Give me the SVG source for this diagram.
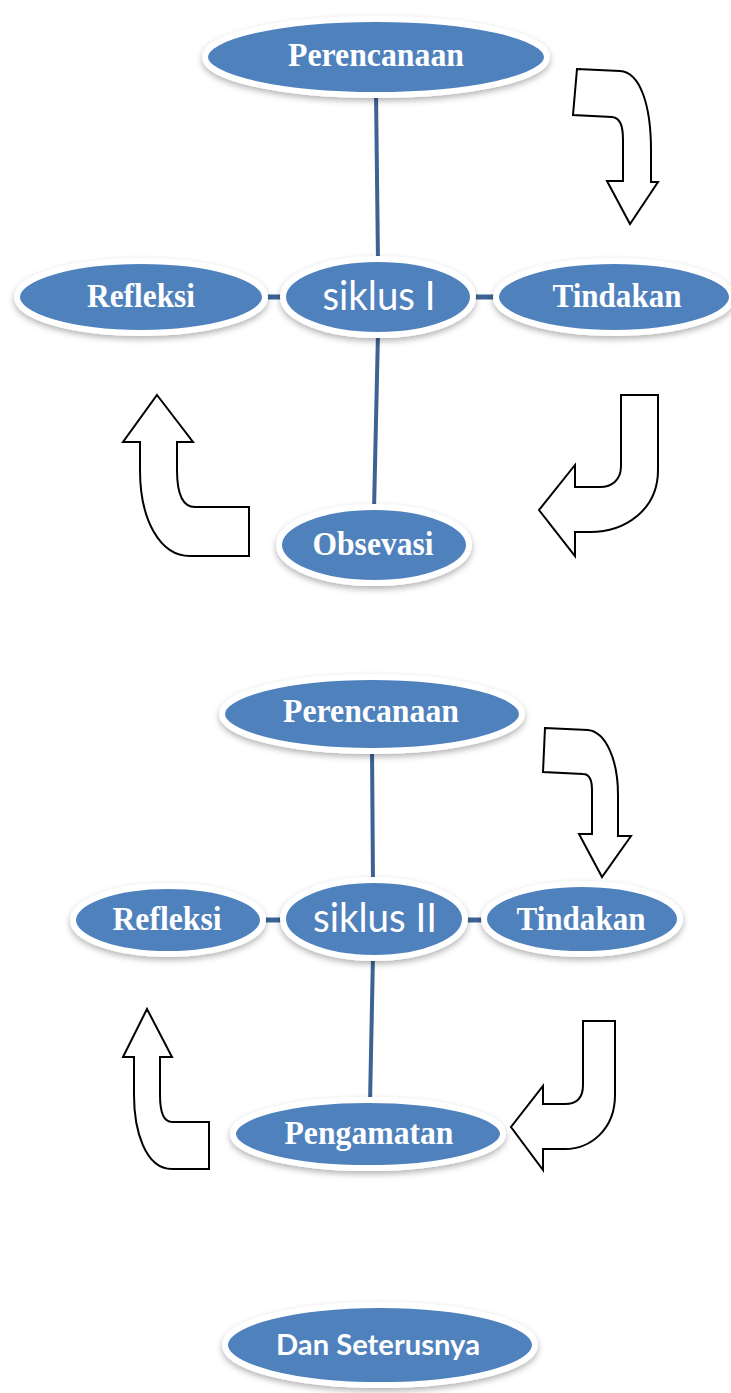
<svg xmlns="http://www.w3.org/2000/svg" width="731" height="1393" viewBox="0 0 731 1393">
<style>
.node ellipse{fill:#4f81bd;stroke:#ffffff;stroke-width:6;filter:url(#sh)}
.serif{font-family:"Liberation Serif","Times New Roman",serif;font-weight:bold;font-size:33px;fill:#ffffff;text-anchor:middle}
.sans{font-family:Lato,"Liberation Sans",sans-serif;font-size:40px;fill:#ffffff;text-anchor:middle}
.sansb{font-family:Lato,"Liberation Sans",sans-serif;font-weight:bold;font-size:29px;fill:#ffffff;text-anchor:middle}
.conn line{stroke:#3c6394;stroke-width:4}
.conn .h{stroke-width:5}
.arrow path{fill:#ffffff;stroke:#000000;stroke-width:2;stroke-linejoin:miter}
</style>
<defs>
<filter id="sh" x="-20%" y="-30%" width="140%" height="170%">
<feDropShadow dx="0" dy="3" stdDeviation="3" flood-color="#000000" flood-opacity="0.3"/>
</filter>
</defs>
<rect width="731" height="1393" fill="#ffffff"/>

<g id="connectors" class="conn">
<line x1="376" y1="92" x2="378" y2="262"/>
<line x1="378" y1="332" x2="374" y2="510"/>
<line class="h" x1="260" y1="297" x2="290" y2="297"/>
<line class="h" x1="468" y1="297" x2="500" y2="297"/>
<line x1="372" y1="748" x2="373" y2="883"/>
<line x1="373" y1="955" x2="370" y2="1103"/>
<line class="h" x1="258" y1="920" x2="288" y2="920"/>
<line class="h" x1="460" y1="920" x2="490" y2="920"/>
</g>

<g id="arrows" class="arrow">
<path id="arrow1" d="M 577 69 L 620 71 C 640 72, 651 105, 651 150 L 651 182 L 658 182 L 630 224 L 607 181 L 623 181 L 623 140 C 623 125, 620 118, 612 117 L 573 115 Z"/>
<path id="arrow2" d="M 621 395 L 658 395 L 658 470 C 658 510, 625 532, 590 532 L 575 532 L 575 556 L 539 510 L 575 465 L 575 487 L 600 487 C 612 487, 621 480, 621 466 Z"/>
<path id="arrow3" d="M 157 395 L 193 442 L 177 442 L 177 470 C 177 495, 183 507, 195 507 L 249 507 L 249 556 L 190 556 C 160 556, 140 520, 140 470 L 140 442 L 123 442 Z"/>
<path id="arrow4" d="M 545 728 L 588 730 C 606 732, 618 760, 618 795 L 618 836 L 631 836 L 602 877 L 579 834 L 592 834 L 592 790 C 592 780, 590 774, 583 774 L 543 772 Z"/>
<path id="arrow5" d="M 583 1021 L 615 1021 L 615 1095 C 615 1130, 590 1149, 565 1149 L 543 1149 L 543 1170 L 511 1127 L 543 1086 L 543 1104 L 565 1104 C 577 1104, 583 1097, 583 1085 Z"/>
<path id="arrow6" d="M 147 1009 L 172 1057 L 160 1057 L 160 1095 C 160 1112, 163 1122, 172 1122 L 209 1122 L 209 1169 L 172 1169 C 145 1169, 134 1130, 134 1095 L 134 1057 L 123 1057 Z"/>
</g>

<g id="perencanaan1" class="node"><ellipse cx="376" cy="57" rx="171" ry="38"/><text class="serif" x="376" y="66" textLength="176" lengthAdjust="spacingAndGlyphs">Perencanaan</text></g>
<g id="refleksi1" class="node"><ellipse cx="141" cy="297" rx="124" ry="36"/><text class="serif" x="141" y="307" textLength="108" lengthAdjust="spacingAndGlyphs">Refleksi</text></g>
<g id="siklus1" class="node"><ellipse cx="378" cy="297" rx="95" ry="38"/><text class="sans" x="379" y="310" textLength="113" lengthAdjust="spacingAndGlyphs">siklus I</text></g>
<g id="tindakan1" class="node"><ellipse cx="614" cy="297" rx="118" ry="36"/><text class="serif" x="617" y="307" textLength="129" lengthAdjust="spacingAndGlyphs">Tindakan</text></g>
<g id="obsevasi" class="node"><ellipse cx="374" cy="545" rx="95" ry="38"/><text class="serif" x="373" y="555" textLength="121" lengthAdjust="spacingAndGlyphs">Obsevasi</text></g>

<g id="perencanaan2" class="node"><ellipse cx="372" cy="714" rx="150" ry="37"/><text class="serif" x="371" y="722" textLength="176" lengthAdjust="spacingAndGlyphs">Perencanaan</text></g>
<g id="refleksi2" class="node"><ellipse cx="168" cy="920" rx="95" ry="34"/><text class="serif" x="167" y="930" textLength="109" lengthAdjust="spacingAndGlyphs">Refleksi</text></g>
<g id="siklus2" class="node"><ellipse cx="374" cy="919" rx="91" ry="39"/><text class="sans" x="375" y="932" textLength="124" lengthAdjust="spacingAndGlyphs">siklus II</text></g>
<g id="tindakan2" class="node"><ellipse cx="582" cy="919" rx="98" ry="35"/><text class="serif" x="581" y="930" textLength="129" lengthAdjust="spacingAndGlyphs">Tindakan</text></g>
<g id="pengamatan" class="node"><ellipse cx="368" cy="1134" rx="135" ry="34"/><text class="serif" x="369" y="1144" textLength="169" lengthAdjust="spacingAndGlyphs">Pengamatan</text></g>

<g id="dan-seterusnya" class="node"><ellipse cx="380" cy="1345" rx="155" ry="40"/><text class="sansb" x="378" y="1355" textLength="204" lengthAdjust="spacingAndGlyphs">Dan Seterusnya</text></g>
</svg>
